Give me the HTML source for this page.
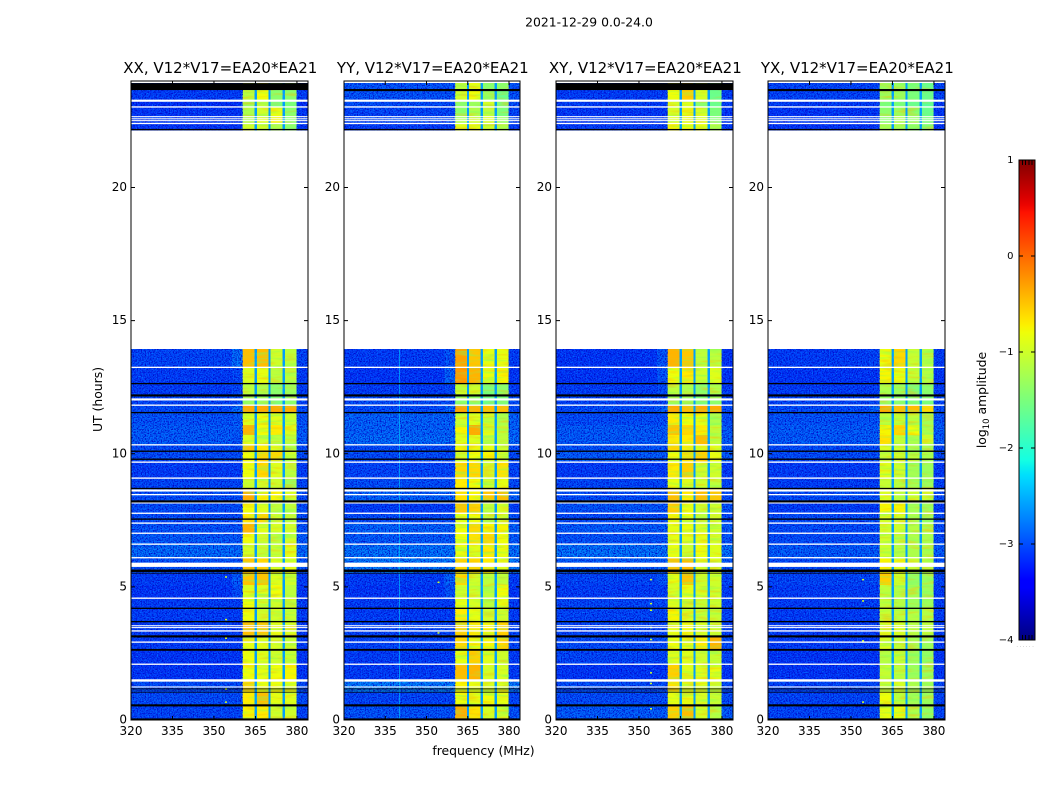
<!DOCTYPE html>
<html>
<head>
<meta charset="utf-8">
<title>Dynamic spectra 2021-12-29</title>
<style>
html,body{margin:0;padding:0;background:#fff;}
svg{display:block;font-family:"DejaVu Sans","Liberation Sans",sans-serif;fill:#000;}
</style>
</head>
<body>
<svg id="chart" xmlns="http://www.w3.org/2000/svg" width="1050" height="800" viewBox="0 0 1050 800">
  <defs>
    <filter id="grain-light" x="0" y="0" width="100%" height="100%" color-interpolation-filters="sRGB">
      <feTurbulence type="fractalNoise" baseFrequency="0.8" numOctaves="2" seed="4"/>
      <feColorMatrix type="matrix" values="0 0 0 0 0  0 0 0 0 0.5  0 0 0 0 1  2.8 0 0 0 -1.3"/>
    </filter>
    <filter id="grain-dark" x="0" y="0" width="100%" height="100%" color-interpolation-filters="sRGB">
      <feTurbulence type="fractalNoise" baseFrequency="0.75" numOctaves="2" seed="11"/>
      <feColorMatrix type="matrix" values="0 0 0 0 0  0 0 0 0 0.02  0 0 0 0 0.78  0 3.0 0 0 -1.25"/>
    </filter>
    <filter id="band-mint" x="0" y="0" width="100%" height="100%" color-interpolation-filters="sRGB">
      <feTurbulence type="fractalNoise" baseFrequency="0.04 0.35" numOctaves="2" seed="7"/>
      <feColorMatrix type="matrix" values="0 0 0 0 0.45  0 0 0 0 1  0 0 0 0 0.4  1.5 0 0 0 -0.72"/>
    </filter>
    <filter id="band-amber" x="0" y="0" width="100%" height="100%" color-interpolation-filters="sRGB">
      <feTurbulence type="fractalNoise" baseFrequency="0.05 0.3" numOctaves="2" seed="19"/>
      <feColorMatrix type="matrix" values="0 0 0 0 1  0 0 0 0 0.72  0 0 0 0 0  0 1.5 0 0 -0.76"/>
    </filter>
    <linearGradient id="jet-gradient" x1="0" y1="1" x2="0" y2="0"></linearGradient>
  </defs>
  <text x="589" y="26.5" font-size="12.4" text-anchor="middle">2021-12-29 0.0-24.0</text>
  <text x="483.5" y="755" font-size="12.4" text-anchor="middle">frequency (MHz)</text>
  <text x="0" y="0" font-size="12.4" text-anchor="middle" transform="translate(102,399.5) rotate(-90)">UT (hours)</text>
  <text x="0" y="0" font-size="12.4" text-anchor="middle" transform="translate(986,400) rotate(-90)">log<tspan font-size="8.5" dy="3">10</tspan><tspan dy="-3"> amplitude</tspan></text>
  <g id="panels"></g>
  <g id="colorbar"></g>
</svg>
<script>
// ---- data ----
const panelTitles = ["XX, V12*V17=EA20*EA21", "YY, V12*V17=EA20*EA21", "XY, V12*V17=EA20*EA21", "YX, V12*V17=EA20*EA21"];
const xTicks = [320, 335, 350, 365, 380];
const yTicks = [0, 5, 10, 15, 20];
const colorTicks = [-4, -3, -2, -1, 0, 1];
// column edges in MHz: background, edge glow, four sub-bands split by narrow gaps, right margin
const freqEdges = [320, 356.5, 360.4, 364.7, 365.5, 369.7, 370.5, 374.8, 375.6, 379.9, 384];
// time-row edges in hours, top to bottom
const timeEdges = [23.92, 23.66, 23.28, 23.02, 22.68, 22.42, 22.15, 13.93, 13.26, 12.62, 12.20, 11.83, 11.53, 11.08, 10.70, 10.33, 10.10, 9.69, 9.09, 8.71, 8.22, 7.77, 7.40, 7.02, 6.61, 6.08, 5.52, 5.07, 4.58, 4.21, 3.68, 3.12, 2.63, 2.10, 1.46, 1.05, 0.53, 0];
const gapLevels = [-2.6, -2.6, -2.6, -2.6];
// log10 amplitude per row: [background, edge, band1, band2, band3, band4]; null = no data
const xxValues = [
[-3.05,-3.05,-1.1,-0.8,-1.4,-1.4],[-3.05,-3.05,-1.1,-0.8,-1.4,-1.4],[-3.15,-3.15,-1.3,-1.1,-1.5,-1.5],[-3.1,-3.1,-1.2,-1.0,-0.85,-1.4],[-3.05,-3.05,-1.2,-0.9,-0.75,-1.4],[-3.1,-3.1,-1.0,-1.0,-1.2,-1.4],
null,
[-3.0,-2.75,-0.45,-0.45,-1.0,-1.1],[-3.05,-3.0,-0.9,-0.85,-1.1,-1.1],[-3.05,-3.0,-1.1,-1.2,-1.4,-1.3],[-3.0,-2.95,-1.3,-1.3,-1.5,-1.4],[-2.95,-2.75,-0.35,-0.35,-0.35,-0.35],[-2.9,-2.85,-0.9,-0.8,-0.9,-1.0],[-2.85,-2.85,-0.4,-0.8,-0.7,-0.9],[-2.85,-2.9,-0.9,-1.0,-1.1,-1.1],
[-2.95,-2.95,-0.5,-0.7,-0.9,-1.1],[-2.95,-2.95,-0.8,-0.6,-0.6,-1.0],[-3.05,-3.05,-0.8,-0.6,-0.9,-1.1],[-3.0,-3.0,-1.0,-1.0,-1.0,-1.3],[-2.95,-2.95,-0.35,-0.75,-0.75,-0.95],[-2.95,-2.95,-0.8,-0.9,-1.1,-1.1],[-2.95,-2.95,-0.7,-0.6,-1.0,-1.1],[-2.9,-2.9,-0.4,-0.9,-0.95,-1.0],[-2.85,-2.85,-0.8,-1.0,-1.1,-1.0],[-2.75,-2.75,-0.95,-1.05,-1.05,-0.9],
[-2.9,-2.9,-0.5,-0.6,-0.9,-0.85],[-3.05,-2.85,-0.5,-0.5,-0.9,-1.0],[-3.1,-2.95,-0.9,-0.9,-0.8,-1.1],[-3.05,-3.05,-0.8,-1.0,-1.0,-1.05],[-3.05,-3.05,-0.8,-1.0,-1.0,-1.05],[-3.05,-3.05,-0.45,-0.5,-0.85,-0.95],[-3.05,-3.05,-0.85,-0.9,-0.95,-1.0],[-3.1,-3.1,-0.8,-0.9,-1.0,-1.05],[-3.1,-3.1,-0.8,-0.85,-0.8,-0.75],[-2.95,-2.95,-0.6,-0.8,-0.8,-0.85],[-2.95,-2.95,-0.7,-0.45,-0.85,-0.9],[-3.0,-3.0,-0.75,-0.7,-1.0,-1.0]
];
const yyValues = [
[-2.9,-2.9,-1.1,-0.85,-1.4,-1.4],[-2.9,-2.9,-1.0,-0.8,-1.3,-1.6],[-2.95,-2.95,-1.4,-1.3,-1.0,-1.5],[-3.0,-3.0,-1.4,-1.2,-1.1,-1.5],[-2.95,-2.95,-1.2,-1.0,-0.9,-1.3],[-3.05,-3.05,-0.9,-0.85,-1.0,-1.2],
null,
[-3.05,-2.9,-0.3,-0.5,-0.85,-0.85],[-3.1,-2.8,-0.25,-0.4,-0.85,-0.75],[-3.05,-3.0,-1.0,-1.0,-1.5,-1.4],[-2.95,-2.95,-1.4,-1.4,-1.6,-1.5],[-2.95,-2.8,-0.3,-0.4,-0.45,-0.45],[-2.8,-2.8,-1.0,-0.9,-1.0,-1.2],[-2.8,-2.8,-0.75,-0.35,-0.9,-1.1],[-2.75,-2.75,-0.9,-0.9,-1.1,-1.1],
[-2.95,-2.95,-0.75,-0.75,-0.85,-1.0],[-2.95,-2.95,-1.0,-0.8,-0.75,-1.0],[-3.0,-3.0,-0.6,-0.6,-1.0,-0.65],[-2.95,-2.95,-0.7,-0.8,-1.0,-0.85],[-2.8,-2.8,-0.65,-0.75,-0.5,-0.45],[-3.05,-3.05,-0.5,-0.55,-1.1,-0.95],[-2.95,-2.95,-0.85,-0.8,-1.1,-1.0],[-2.8,-2.8,-0.8,-0.6,-0.75,-0.75],[-2.85,-2.85,-0.8,-0.65,-0.6,-0.8],[-2.7,-2.7,-0.85,-0.9,-0.7,-0.85],
[-2.65,-2.65,-0.6,-0.6,-0.7,-0.9],[-3.05,-2.8,-0.6,-1.0,-1.1,-1.1],[-3.1,-2.9,-1.0,-1.0,-1.1,-0.8],[-3.05,-3.05,-0.85,-0.95,-1.1,-0.85],[-3.05,-3.05,-0.7,-0.85,-1.0,-1.0],[-3.0,-3.0,-0.55,-0.7,-0.75,-0.55],[-3.0,-3.0,-0.6,-0.8,-0.75,-0.6],[-3.05,-3.05,-0.85,-0.55,-0.9,-1.0],[-3.05,-3.05,-0.45,-0.4,-0.95,-0.95],[-2.65,-2.65,-0.75,-0.85,-0.9,-0.9],[-3.0,-3.0,-0.8,-0.85,-0.8,-0.85],[-2.9,-2.9,-0.35,-0.65,-0.95,-1.0]
];
const xyValues = [
[-3.05,-3.05,-0.8,-0.55,-0.95,-1.6],[-3.05,-3.05,-0.8,-0.55,-0.95,-1.6],[-3.05,-3.05,-0.95,-0.9,-1.4,-1.6],[-3.1,-3.1,-0.95,-0.85,-0.95,-1.5],[-3.05,-3.05,-0.9,-0.85,-0.85,-1.45],[-3.05,-3.05,-0.75,-0.8,-0.85,-1.2],
null,
[-3.1,-2.9,-0.4,-0.5,-1.1,-1.1],[-3.1,-2.9,-0.8,-0.7,-1.0,-0.9],[-3.05,-2.95,-1.1,-1.2,-1.4,-1.2],[-3.0,-3.0,-1.3,-1.3,-1.5,-1.4],[-2.95,-2.8,-0.35,-0.45,-0.35,-0.35],[-2.95,-2.95,-0.7,-0.8,-0.85,-1.2],[-2.85,-2.85,-0.5,-0.6,-0.7,-1.1],[-2.85,-2.85,-0.7,-0.7,-0.45,-1.1],
[-2.9,-2.9,-0.6,-0.7,-0.9,-0.9],[-2.85,-2.85,-0.8,-0.65,-0.55,-0.85],[-3.05,-3.05,-0.7,-0.55,-1.0,-1.0],[-3.0,-3.0,-0.85,-0.9,-1.0,-1.1],[-2.95,-2.95,-0.45,-0.7,-0.45,-0.5],[-2.9,-2.9,-0.55,-0.8,-1.0,-1.0],[-2.95,-2.95,-0.75,-0.8,-1.1,-1.0],[-2.85,-2.85,-0.85,-0.85,-0.95,-1.0],[-2.9,-2.9,-0.85,-0.9,-0.85,-1.0],[-2.7,-2.7,-0.85,-1.0,-0.8,-0.9],
[-2.85,-2.85,-0.5,-0.45,-0.9,-0.95],[-3.0,-2.9,-0.85,-0.5,-1.0,-1.0],[-3.05,-3.05,-0.95,-0.85,-0.95,-1.0],[-3.0,-3.0,-0.9,-1.0,-1.05,-1.0],[-3.0,-3.0,-0.75,-0.95,-1.05,-1.05],[-3.0,-3.0,-0.85,-0.8,-0.95,-1.0],[-2.95,-2.95,-0.8,-0.85,-0.7,-0.4],[-3.0,-3.0,-0.9,-0.9,-1.0,-1.05],[-3.1,-3.1,-0.55,-0.9,-0.9,-0.85],[-2.95,-2.95,-0.65,-0.9,-0.9,-1.0],[-2.95,-2.95,-0.85,-0.85,-0.95,-1.05],[-2.85,-2.85,-0.55,-0.45,-0.95,-1.15]
];
const yxValues = [
[-3.0,-3.0,-1.3,-1.3,-1.5,-1.6],[-3.0,-3.0,-1.3,-1.3,-1.5,-1.6],[-3.05,-3.05,-1.5,-1.5,-1.6,-1.7],[-3.1,-3.1,-1.4,-1.3,-1.4,-1.6],[-3.05,-3.05,-1.4,-1.2,-1.35,-1.5],[-3.1,-3.1,-1.25,-1.25,-1.35,-1.45],
null,
[-3.05,-3.0,-0.8,-0.6,-1.05,-1.15],[-3.1,-3.1,-0.75,-0.85,-1.05,-1.15],[-3.05,-3.05,-1.2,-1.3,-1.5,-1.4],[-3.0,-3.0,-1.35,-1.4,-1.5,-1.5],[-2.95,-2.8,-0.35,-0.45,-0.45,-0.6],[-2.9,-2.9,-1.1,-1.05,-1.1,-1.25],[-2.85,-2.85,-0.75,-0.6,-0.8,-1.2],[-2.85,-2.85,-0.65,-1.05,-1.2,-1.0],
[-2.95,-2.95,-0.95,-1.0,-1.25,-1.25],[-2.95,-2.95,-1.05,-1.0,-1.1,-1.2],[-3.05,-3.05,-0.9,-1.0,-1.25,-1.3],[-3.05,-3.05,-1.05,-1.1,-1.25,-1.3],[-2.95,-2.95,-0.9,-1.1,-1.0,-1.0],[-3.05,-3.05,-0.75,-0.75,-1.25,-1.3],[-2.95,-2.95,-0.95,-0.95,-1.2,-1.3],[-2.95,-2.95,-1.0,-1.0,-1.15,-1.2],[-2.95,-2.95,-1.0,-1.1,-1.2,-1.2],[-2.85,-2.85,-1.0,-1.15,-1.2,-1.2],
[-2.95,-2.95,-0.75,-0.85,-1.05,-1.1],[-3.0,-2.95,-0.55,-1.0,-1.35,-1.3],[-3.05,-3.05,-1.1,-1.15,-1.25,-1.3],[-3.05,-3.05,-1.1,-1.15,-1.3,-1.3],[-3.05,-3.05,-1.05,-1.1,-1.15,-1.15],[-3.05,-3.05,-0.9,-0.95,-1.15,-1.1],[-3.05,-3.05,-0.95,-1.05,-1.25,-1.3],[-3.1,-3.1,-1.15,-1.05,-1.3,-1.35],[-3.1,-3.1,-1.05,-1.1,-1.3,-1.3],[-3.0,-3.0,-1.05,-0.95,-1.2,-1.25],[-3.0,-3.0,-0.8,-1.1,-1.25,-1.3],[-3.0,-3.0,-0.85,-0.85,-1.2,-1.35]
];
// flagged integrations: [start hour, end hour]
const whiteFlags = [[23.22,23.30],[23.00,23.05],[22.64,22.68],[22.56,22.60],[22.49,22.53],[22.38,22.43],[13.22,13.27],[12.00,12.08],[11.80,11.85],[10.31,10.36],[9.66,9.71],[9.06,9.11],[8.58,8.66],[8.44,8.49],[8.13,8.17],[7.74,7.79],[7.37,7.42],[6.99,7.04],[6.58,6.63],[6.07,6.12],[5.75,5.91],[4.55,4.60],[3.52,3.56],[3.45,3.49],[3.32,3.37],[2.90,2.95],[2.07,2.12],[1.44,1.53],[1.22,1.26]];
const blackFlags = [[22.15,22.20],[12.61,12.66],[12.15,12.23],[11.52,11.57],[10.07,10.12],[9.77,9.82],[8.67,8.72],[8.17,8.25],[7.52,7.57],[5.56,5.65],[5.50,5.53],[4.17,4.22],[3.67,3.72],[3.10,3.18],[2.60,2.67],[1.17,1.19],[1.12,1.14],[1.03,1.06],[0.51,0.59],[0.01,0.06]];
// per-panel flag at the top of the band
const topFlags = [[23.66,23.92],[23.62,23.70],[23.66,23.92],[23.62,23.70]];
// narrow interference channels per panel, in MHz, with log10 amplitude
const rfiFreqs = [[], [340], [], []];
const rfiLevels = [[], [-2.3], [], []];
// isolated bright samples per panel, all near 354 MHz, in hours
const speckFreq = 354;
const speckHours = [[5.4,3.8,3.1,1.2,0.7], [5.2,3.3,1.5], [5.3,4.4,4.15,3.5,3.05,1.8,1.4,0.45], [5.3,4.5,3.0,0.7]];

// ---- layout ----
const panelValues = [xxValues, yyValues, xyValues, yxValues];
const panelLefts = [131, 344, 556, 768];
const panelWidths = [177, 176, 177, 177];
const plotTop = 81, plotBottom = 720;
const NS = "http://www.w3.org/2000/svg";

function make(tag, attrs, parent) {
  const el = document.createElementNS(NS, tag);
  for (const k in attrs) el.setAttribute(k, attrs[k]);
  parent.appendChild(el);
  return el;
}
function yScale(h) { return plotBottom - h * (plotBottom - plotTop) / 24; }
function xScale(p, f) { return panelLefts[p] + (f - 320) * panelWidths[p] / 64; }
function ramp(t, pts) {
  for (let i = 1; i < pts.length; i++) {
    if (t <= pts[i][0]) {
      const a = pts[i - 1], b = pts[i];
      return a[1] + (b[1] - a[1]) * (t - a[0]) / (b[0] - a[0]);
    }
  }
  return pts[pts.length - 1][1];
}
const jetRed = [[0,0],[0.35,0],[0.66,1],[0.89,1],[1,0.5]];
const jetGreen = [[0,0],[0.125,0],[0.375,1],[0.64,1],[0.91,0],[1,0]];
const jetBlue = [[0,0.5],[0.11,1],[0.34,1],[0.65,0],[1,0]];
function jet(v) {
  const t = Math.max(0, Math.min(1, (v + 4) / 5));
  return "rgb(" + Math.round(ramp(t, jetRed) * 255) + "," + Math.round(ramp(t, jetGreen) * 255) + "," + Math.round(ramp(t, jetBlue) * 255) + ")";
}
// maps a column of freqEdges onto an entry of the row's value list
function columnLevel(row, col, p) {
  if (col === 0) return row[0];
  if (col === 1) return row[1];
  if (col === 3 || col === 5 || col === 7) return gapLevels[p];
  if (col === 9) return row[0];
  return row[2 + (col - 2) / 2];
}

const panelsRoot = document.getElementById("panels");

panelTitles.forEach(function (title, p) {
  const g = make("g", {}, panelsRoot);
  
  
  const values = panelValues[p];
  const left = panelLefts[p], right = left + panelWidths[p];

  // heatmap cells
  values.forEach(function (row, r) {
    if (!row) return;
    const y0 = yScale(timeEdges[r]), y1 = yScale(timeEdges[r + 1]);
    for (let c = 0; c < freqEdges.length - 1; c++) {
      const x0 = xScale(p, freqEdges[c]), x1 = xScale(p, freqEdges[c + 1]);
      const cell = make("rect", { x: x0, y: y0, width: x1 - x0, height: y1 - y0, fill: jet(columnLevel(row, c, p)), "shape-rendering": "crispEdges" }, g);
      
      
    }
  });

  // grain over the background and streaks over the sub-bands, above and below the data gap
  const gapRow = values.indexOf(null);
  const blocks = [[timeEdges[0], timeEdges[gapRow]], [timeEdges[gapRow + 1], timeEdges[timeEdges.length - 1]]];
  const bgSpans = [[freqEdges[0], freqEdges[2]], [freqEdges[9], freqEdges[10]]];
  const bandSpans = [[freqEdges[2], freqEdges[3]], [freqEdges[4], freqEdges[5]], [freqEdges[6], freqEdges[7]], [freqEdges[8], freqEdges[9]]];
  function texture(b, s, fid, name) {
    const n = make("rect", { x: xScale(p, s[0]), y: yScale(b[0]), width: xScale(p, s[1]) - xScale(p, s[0]), height: yScale(b[1]) - yScale(b[0]), fill: "#000", filter: "url(#" + fid + ")" }, g);
    
    
  }
  blocks.forEach(function (b) {
    bgSpans.forEach(function (s) {
      texture(b, s, "grain-light", "background-noise");
      texture(b, s, "grain-dark", "background-noise");
    });
    bandSpans.forEach(function (s) {
      texture(b, s, "band-mint", "band-texture");
      texture(b, s, "band-amber", "band-texture");
    });
  });

  // interference channels
  rfiFreqs[p].forEach(function (f, i) {
    const line = make("rect", { x: xScale(p, f), y: yScale(timeEdges[gapRow + 1]), width: 1, height: yScale(0) - yScale(timeEdges[gapRow + 1]), fill: jet(rfiLevels[p][i]), opacity: 0.55 }, g);
    
    
  });
  speckHours[p].forEach(function (h) {
    const sp = make("rect", { x: xScale(p, speckFreq), y: yScale(h), width: 2, height: 1.5, fill: jet(-1) }, g);
    
    
  });

  // flagged rows
  function flag(pair, color, name) {
    const f = make("rect", { x: left, y: yScale(pair[1]), width: panelWidths[p], height: yScale(pair[0]) - yScale(pair[1]), fill: color }, g);
    
    
  }
  whiteFlags.forEach(function (pair) { flag(pair, "#fff", "flag-white"); });
  blackFlags.forEach(function (pair) { flag(pair, "#000", "flag-black"); });
  flag(topFlags[p], "#000", "flag-top");

  // frame
  const frame = make("rect", { x: left, y: plotTop, width: panelWidths[p], height: plotBottom - plotTop, fill: "none", stroke: "#000", "stroke-width": 1 }, g);
  
  

  // x ticks
  xTicks.forEach(function (t) {
    const x = xScale(p, t);
    [[plotBottom, plotBottom - 4], [plotTop, plotTop + 4]].forEach(function (ends) {
      const tk = make("line", { x1: x, x2: x, y1: ends[0], y2: ends[1], stroke: "#000", "stroke-width": 1 }, g);
      
      
    });
    const lb = make("text", { x: x, y: 735, "font-size": 12, "text-anchor": "middle" }, g);
    lb.textContent = String(t);
    
    
  });

  // y ticks
  yTicks.forEach(function (t) {
    const y = yScale(t);
    [[left, left + 4], [right, right - 4]].forEach(function (ends) {
      const tk = make("line", { x1: ends[0], x2: ends[1], y1: y, y2: y, stroke: "#000", "stroke-width": 1 }, g);
      
      
    });
    const lb = make("text", { x: left - 4, y: y + 3.6, "font-size": 12, "text-anchor": "end" }, g);
    lb.textContent = String(t);
    
    
  });

  // title
  const tt = make("text", { x: left + panelWidths[p] / 2 + 0.8, y: 73, "font-size": 15, "text-anchor": "middle" }, g);
  tt.textContent = title;
  
  
});

// ---- colorbar ----
const cbRoot = document.getElementById("colorbar");
const cbLeft = 1019, cbRight = 1035, cbTop = 160, cbBottom = 640;
function cbScale(v) { return cbBottom - (v + 4) * (cbBottom - cbTop) / 5; }

const grad = document.getElementById("jet-gradient");
for (let i = 0; i <= 64; i++) {
  make("stop", { offset: (i / 64), "stop-color": jet(-4 + 5 * i / 64) }, grad);
}
const cbFill = make("rect", { x: cbLeft, y: cbTop, width: cbRight - cbLeft, height: cbBottom - cbTop, fill: "url(#jet-gradient)", stroke: "#000", "stroke-width": 1 }, cbRoot);



colorTicks.forEach(function (v) {
  const y = cbScale(v);
  [[cbLeft, cbLeft + 4], [cbRight, cbRight - 4]].forEach(function (ends) {
    const tk = make("line", { x1: ends[0], x2: ends[1], y1: y, y2: y, stroke: "#000", "stroke-width": 1 }, cbRoot);
    
    
  });
  const lb = make("text", { x: 1013.5, y: y + 3, "font-size": 10, "text-anchor": "end" }, cbRoot);
  lb.textContent = v < 0 ? "\u2212" + Math.abs(v) : String(v);
  
  
});

[1022.5, 1025.5, 1029, 1032].forEach(function (x) {
  [[cbTop, cbTop + 5], [cbBottom, cbBottom - 5]].forEach(function (ends) {
    const tk = make("line", { x1: x, x2: x, y1: ends[0], y2: ends[1], stroke: "#000", "stroke-width": 1 }, cbRoot);
    
    
  });
});

const dots = make("text", { x: 1026, y: 647, "font-size": 4, "text-anchor": "middle", fill: "#555", "letter-spacing": 1.9 }, cbRoot);
dots.textContent = "......";


</script>
</body>
</html>
